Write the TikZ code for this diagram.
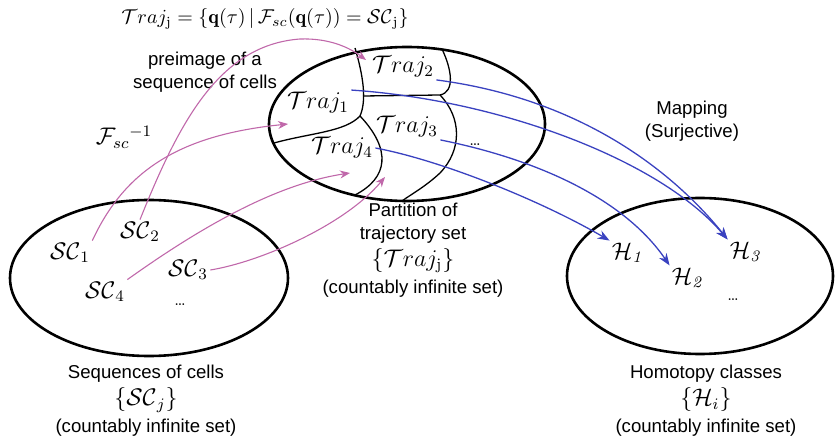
\documentclass[tikz,border=0pt]{standalone}
\usepackage{fontspec}
\newfontfamily\capfont{Liberation Sans}
\usepackage{amsmath}
\usetikzlibrary{arrows.meta}
\definecolor{PinkClr}{RGB}{192,104,170}
\definecolor{BlueClr}{RGB}{58,66,192}

\begin{document}
\begin{tikzpicture}[x=0.5pt,y=-0.5pt,
  setln/.style={line width=1.3pt},
  cutln/.style={line width=0.65pt},
  preimg/.style={PinkClr,line width=0.55pt,-{Stealth[length=5pt,width=4pt]}},
  mapto/.style={BlueClr,line width=0.65pt,-{Stealth[length=6pt,width=4.5pt]}},
  elem/.style={font=\large,inner sep=1pt},
  dots/.style={font=\footnotesize,inner sep=1pt},
  captxt/.style={font=\capfont\fontsize{9.3}{11.5}\selectfont,align=center}]

\useasboundingbox (0,0) rectangle (835,438);

\draw[setln] (149,278) ellipse [x radius=139,y radius=78];
\draw[setln] (407,124) ellipse [x radius=138,y radius=77];
\draw[setln] (700,276) ellipse [x radius=133,y radius=78];

\draw[cutln] (355,48) .. controls (363,75) and (367,100) .. (360,116);
\draw[cutln] (360,116) .. controls (345,132) and (310,133) .. (274,143);
\draw[cutln] (360,116) .. controls (392,150) and (388,178) .. (355,195);
\draw[cutln] (442,49) .. controls (452,70) and (455,92) .. (440,95) -- (363,96);
\draw[cutln] (440,95) .. controls (462,118) and (462,150) .. (440,173) .. controls (425,187) and (410,195) .. (402,201);

\node (fdef) at (265,19) {$\mathcal{T}raj_{\mathrm{j}}=\{\mathbf{q}(\tau)\,|\,\mathcal{F}_{sc}(\mathbf{q}(\tau))=\mathcal{SC}_{\mathrm{j}}\}$};
\node[captxt] (preimlbl) at (205,72) {preimage of a\\sequence of cells};
\node[elem] (finv) at (124,137) {$\mathcal{F}_{sc}{}^{-1}$};
\node[captxt] (maplbl) at (692,121) {Mapping\\(Surjective)};

\node[elem] (t1) at (318,103) {$\mathcal{T}raj_1$};
\node[elem] (t2) at (403,67) {$\mathcal{T}raj_2$};
\node[elem] (t3) at (407,127) {$\mathcal{T}raj_3$};
\node[elem] (t4) at (342,148) {$\mathcal{T}raj_4$};
\node[dots] (tdots) at (475,145) {\ldots};

\node[elem] (sc1) at (70,253) {$\mathcal{SC}_1$};
\node[elem] (sc2) at (140,232) {$\mathcal{SC}_2$};
\node[elem] (sc3) at (188,270) {$\mathcal{SC}_3$};
\node[elem] (sc4) at (105,292) {$\mathcal{SC}_4$};
\node[dots] (scdots) at (180,305) {\ldots};

\node[elem] (h1) at (627,253) {$\mathcal{H}_{\mathit{1}}$};
\node[elem] (h2) at (687,278) {$\mathcal{H}_{\mathit{2}}$};
\node[elem] (h3) at (745,252) {$\mathcal{H}_{\mathit{3}}$};
\node[dots] (hdots) at (733,300) {\ldots};

\node[captxt] (capsc) at (146,401) {Sequences of cells\\[2pt]{\large$\{\mathcal{SC}_j\}$}\\[2pt](countably infinite set)};
\node[captxt] (captr) at (413,250) {Partition of\\trajectory set\\[2pt]{\large$\{\mathcal{T}raj_{\mathrm{j}}\}$}\\[2pt](countably infinite set)};
\node[captxt] (caph) at (706,401) {Homotopy classes\\[2pt]{\large$\{\mathcal{H}_i\}$}\\[2pt](countably infinite set)};

\coordinate (p1) at (288,124);
\coordinate (p2) at (366,60);
\coordinate (p3) at (350,173);
\coordinate (p4) at (385,177);

\draw[preimg] (sc1.north east) .. controls (125,170) and (180,135) .. (p1);
\draw[preimg] (sc2.north) .. controls (180,120) and (220,45) .. (300,39) .. controls (330,38) and (350,48) .. (p2);
\draw[preimg] (sc4.north east) .. controls (190,235) and (270,185) .. (p3);
\draw[preimg] (sc3.east) .. controls (260,262) and (345,225) .. (p4);

\draw[mapto] (t2.south east) .. controls (590,100) and (680,180) .. (h3.north west);
\draw[mapto] (t1.north east) .. controls (500,100) and (660,160) .. (h3.north west);
\draw[mapto] (t3.south east) .. controls (540,160) and (625,200) .. (h2.north west);
\draw[mapto] (t4.east) .. controls (440,160) and (540,200) .. (h1.north west);

\end{tikzpicture}
\end{document}
